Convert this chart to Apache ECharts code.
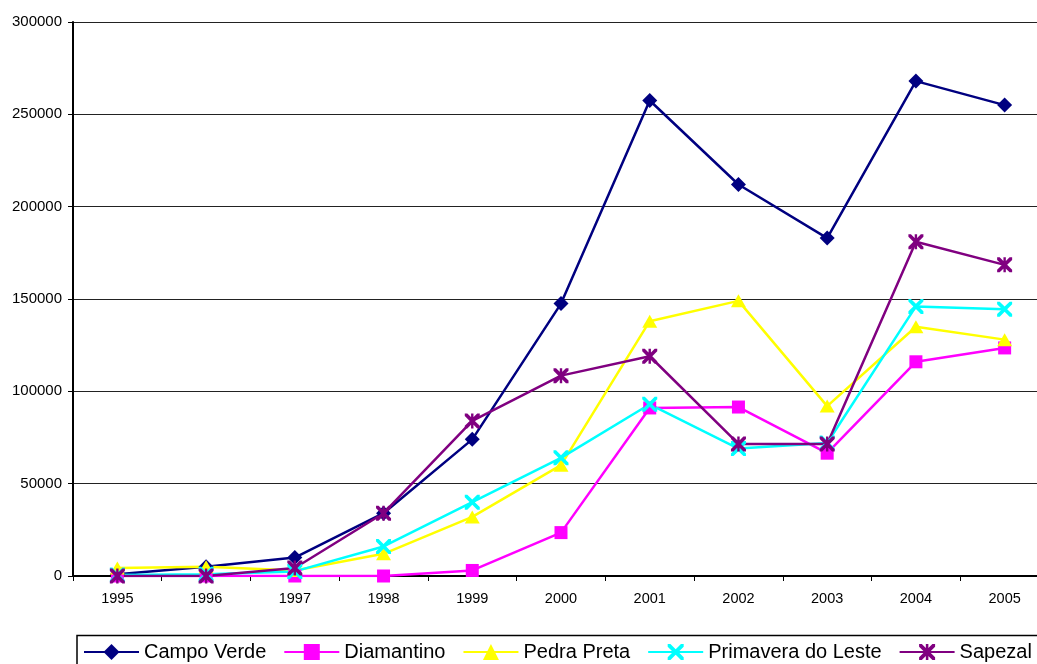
<!DOCTYPE html>
<html>
<head>
<meta charset="utf-8">
<script src="https://cdn.jsdelivr.net/npm/echarts@6/dist/echarts.min.js"></script>
<style>
  html, body { margin: 0; padding: 0; background: #fff; overflow: hidden; width: 1037px; height: 664px; }
  /* plot area runs slightly past the right edge of the page */
  #chart { width: 1049px; height: 664px; }
</style>
</head>
<body>
<div id="chart"></div>
<script>
// Years on the category axis
const years = ['1995', '1996', '1997', '1998', '1999', '2000', '2001', '2002', '2003', '2004', '2005'];

// Yearly values per municipality
const campoVerde = [1000, 5000, 10000, 34000, 74000, 147500, 257500, 212000, 183000, 268000, 255000];
const diamantino = [0, 0, 0, 0, 3000, 23500, 91000, 91500, 66500, 116000, 123500];
const pedraPreta = [4300, 5000, 3000, 12000, 32000, 60000, 138000, 149000, 92000, 135000, 128000];
const primaveraDoLeste = [500, 1000, 2500, 16000, 40000, 64000, 93000, 69000, 72000, 146000, 144500];
const sapezal = [0, 0, 4300, 34000, 84000, 108500, 119000, 71500, 71500, 181000, 168500];

// Value axis settings
const yMin = 0;
const yMax = 300000;
const yStep = 50000;

const FONT = "'Liberation Sans', Arial, sans-serif";

// Marker shapes drawn as filled outlines
const xMark = 'path://M0,0 L3.4,0 L10,6.6 L16.6,0 L20,0 L20,3.4 L13.4,10 L20,16.6 L20,20 L16.6,20 L10,13.4 L3.4,20 L0,20 L0,16.6 L6.6,10 L0,3.4 Z';
const starMark = xMark + ' M8.4,0 L11.6,0 L11.6,20 L8.4,20 Z';

function lineSeries(name, data, color, symbol, size) {
  return {
    name: name,
    type: 'line',
    data: data,
    symbol: symbol,
    symbolSize: size,
    showAllSymbol: true,
    lineStyle: { color: color, width: 2.5 },
    itemStyle: { color: color, borderWidth: 0 },
    emphasis: { disabled: true }
  };
}

const chart = echarts.init(document.getElementById('chart'), null, { renderer: 'canvas' });

chart.setOption({
  animation: false,
  backgroundColor: '#ffffff',
  grid: { left: 73, top: 22, right: 0, bottom: 88, containLabel: false },
  xAxis: {
    type: 'category',
    data: years,
    boundaryGap: true,
    axisLine: { show: true, lineStyle: { color: '#000', width: 2 } },
    axisTick: { show: true, interval: 0, length: 5, lineStyle: { color: '#000', width: 1 } },
    axisLabel: { interval: 0, margin: 15, color: '#000', fontFamily: FONT, fontSize: 14.5 },
    splitLine: { show: false }
  },
  yAxis: {
    type: 'value',
    min: yMin,
    max: yMax,
    interval: yStep,
    axisLine: { show: true, lineStyle: { color: '#000', width: 2 } },
    axisTick: { show: true, length: 5, lineStyle: { color: '#000', width: 1 } },
    axisLabel: {
      margin: 11, color: '#000', fontFamily: FONT, fontSize: 15,
      formatter: function (v) { return String(v); }
    },
    splitLine: { show: true, lineStyle: { color: '#222', width: 1 } }
  },
  legend: {
    left: 83,
    top: 642,
    padding: 0,
    itemWidth: 55,
    itemHeight: 20,
    itemGap: 17,
    selectedMode: false,
    textStyle: { color: '#000', fontFamily: FONT, fontSize: 20 },
    data: ['Campo Verde', 'Diamantino', 'Pedra Preta', 'Primavera do Leste', 'Sapezal']
  },
  graphic: [{
    type: 'rect',
    silent: true,
    shape: { x: 77, y: 635.5, width: 1000, height: 60 },
    style: { fill: 'none', stroke: '#000', lineWidth: 1.5 }
  }],
  series: [
    lineSeries('Campo Verde', campoVerde, '#000080', 'diamond', 15),
    lineSeries('Diamantino', diamantino, '#ff00ff', 'rect', 13),
    lineSeries('Pedra Preta', pedraPreta, '#ffff00', 'triangle', [15, 13]),
    lineSeries('Primavera do Leste', primaveraDoLeste, '#00ffff', xMark, 15),
    lineSeries('Sapezal', sapezal, '#800080', starMark, 15)
  ]
});
</script>
</body>
</html>
